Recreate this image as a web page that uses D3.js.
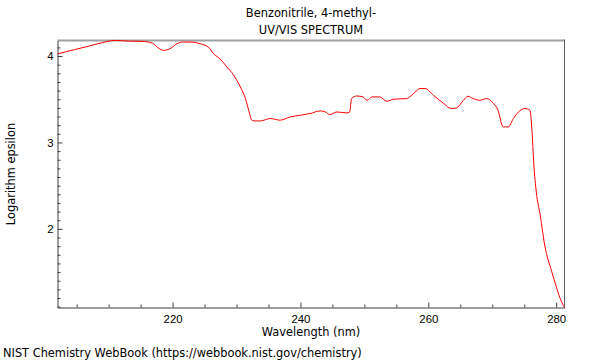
<!DOCTYPE html>
<html lang="en">
<head>
<meta charset="UTF-8">
<title>Benzonitrile, 4-methyl- UV/VIS spectrum</title>
<script src="https://cdn.jsdelivr.net/npm/d3@7.8.5/dist/d3.min.js"></script>
<style>
    body { margin: 0; background: #fff; }
    svg { display: block; font-family: "DejaVu Sans", sans-serif; }
    .axis path, .axis line { stroke: #404040; }
    .axis text { font-size: 11.4px; fill: #000; }
</style>
</head>
<body>
<svg id="chart" width="600" height="360"></svg>
<script>
    // wavelength (nm)
    const wavelength = [202.0, 204.8, 206.9, 209.0, 211.05, 213.1, 215.2, 216.8, 217.8, 218.6,
        219.6, 220.7, 221.7, 222.8, 224.3, 225.6, 226.4, 227.5, 228.5, 229.5,
        230.6, 231.4, 231.9, 232.4, 232.9, 233.7, 235.3, 236.8, 238.4, 240.0,
        241.5, 243.1, 243.9, 244.6, 245.7, 247.2, 247.7, 248.0, 248.8, 249.8,
        250.4, 251.2, 252.4, 253.5, 254.5, 256.6, 257.7, 258.7, 259.5, 260.8,
        262.3, 263.6, 264.4, 265.5, 266.2, 267.0, 268.1, 269.1, 270.2, 270.9,
        271.7, 272.5, 273.3, 274.1, 275.1, 275.9, 276.2, 276.5, 276.9, 277.5, 278.2,
        279.3, 280.0, 280.6, 281.3];
    // log epsilon
    const logEps = [4.025, 4.077, 4.115, 4.155, 4.181, 4.173, 4.170, 4.150, 4.092, 4.066,
        4.085, 4.143, 4.162, 4.162, 4.143, 4.104, 4.028, 3.962, 3.873, 3.785,
        3.642, 3.508, 3.373, 3.258, 3.249, 3.249, 3.277, 3.258, 3.296, 3.315,
        3.335, 3.365, 3.353, 3.323, 3.353, 3.342, 3.353, 3.508, 3.538, 3.527,
        3.488, 3.527, 3.527, 3.477, 3.500, 3.508, 3.566, 3.624, 3.624, 3.546,
        3.457, 3.393, 3.400, 3.488, 3.535, 3.508, 3.488, 3.508, 3.450, 3.373,
        3.180, 3.180, 3.277, 3.353, 3.393, 3.373, 3.15, 2.75, 2.42, 2.160, 1.814,
        1.506, 1.333, 1.199, 1.090];

    const xMajor = [220, 240, 260, 280];
    const yMajor = [2, 3, 4];

    const svg = d3.select("#chart");
    const margin = { left: 57.5, right: 35.5, top: 40.5, bottom: 52.5 };
    const width = 600 - margin.left - margin.right,
          height = 360 - margin.top - margin.bottom;

    const x = d3.scaleLinear().domain([202, 281.3]).range([0, width]);
    const y = d3.scaleLinear().domain([1.09, 4.18]).range([height, 0]);

    const g = svg.append("g").attr("transform", `translate(${margin.left},${margin.top})`);

    // frame: grey top, dark right
    g.append("line").attr("x1", 0).attr("x2", width).attr("y1", 0).attr("y2", 0)
        .attr("stroke", "#a0a0a0").attr("stroke-width", 2);
    g.append("line").attr("x1", width).attr("x2", width).attr("y1", -1).attr("y2", height)
        .attr("stroke", "#606060");

    // minor ticks
    const xMinor = d3.range(205, 281, 5).filter(v => !xMajor.includes(v));
    const yMinor = d3.range(11, 42).map(v => v / 10).filter(v => !yMajor.includes(v));

    g.append("g").attr("class", "axis")
        .attr("transform", `translate(0,${height})`)
        .call(d3.axisBottom(x).tickValues(xMinor).tickSizeInner(-3).tickSizeOuter(0).tickFormat(""))
        .call(a => a.select(".domain").remove());
    g.append("g").attr("class", "axis")
        .call(d3.axisLeft(y).tickValues(yMinor).tickSizeInner(-3).tickSizeOuter(0).tickFormat(""))
        .call(a => a.select(".domain").remove());

    // major axes
    g.append("g").attr("class", "axis")
        .attr("transform", `translate(0,${height})`)
        .call(d3.axisBottom(x).tickValues(xMajor).tickSizeInner(-5).tickSizeOuter(0).tickPadding(7));
    g.append("g").attr("class", "axis")
        .call(d3.axisLeft(y).tickValues(yMajor).tickFormat(d3.format("d"))
            .tickSizeInner(-5).tickSizeOuter(0).tickPadding(4));

    // spectrum
    const points = wavelength.map((w, i) => [w, logEps[i]]);
    g.append("path")
        .datum(points)
        .attr("fill", "none")
        .attr("stroke", "#ff0000")
        .attr("stroke-width", 1)
        .attr("d", d3.line().x(d => x(d[0])).y(d => y(d[1])).curve(d3.curveMonotoneX));

    // titles
    const fs = 11.4;
    svg.append("text").attr("x", margin.left + width / 2).attr("y", 17)
        .attr("text-anchor", "middle").attr("font-size", fs).text("Benzonitrile, 4-methyl-");
    svg.append("text").attr("x", margin.left + width / 2).attr("y", 34)
        .attr("text-anchor", "middle").attr("font-size", fs).text("UV/VIS SPECTRUM");

    svg.append("text").attr("x", margin.left + width / 2).attr("y", 336)
        .attr("text-anchor", "middle").attr("font-size", fs).text("Wavelength (nm)");

    svg.append("text")
        .attr("transform", `translate(15,${margin.top + height / 2}) rotate(-90)`)
        .attr("text-anchor", "middle").attr("font-size", fs).text("Logarithm epsilon");

    svg.append("text").attr("x", 3).attr("y", 357)
        .attr("font-size", fs).text("NIST Chemistry WebBook (https://webbook.nist.gov/chemistry)");
</script>
</body>
</html>
